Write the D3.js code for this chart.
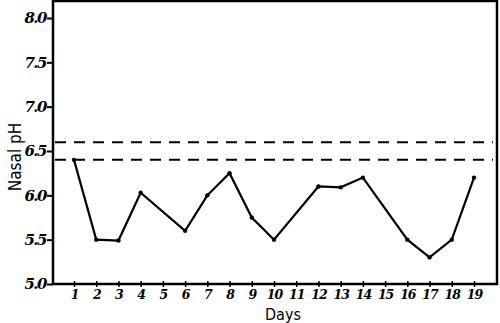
<!DOCTYPE html>
<html lang="en">
<head>
    <meta charset="UTF-8">
    <title>Nasal pH</title>
    <script src="https://cdn.jsdelivr.net/npm/d3@7"></script>
    <style>
        body { margin: 0; background: #fff; }
    </style>
</head>
<body>
<svg width="500" height="323" xmlns="http://www.w3.org/2000/svg" id="my-svg"></svg>
<script>
    // data
    const days = [1, 2, 3, 4, 5, 6, 7, 8, 9, 10, 11, 12, 13, 14, 15, 16, 17, 18, 19];
    const measuredDays = [1, 2, 3, 4, 6, 7, 8, 9, 10, 12, 13, 14, 16, 17, 18, 19];
    const phValues = [6.4, 5.5, 5.49, 6.03, 5.6, 6.0, 6.25, 5.75, 5.5, 6.1, 6.09, 6.2, 5.5, 5.3, 5.5, 6.2];
    const yTicks = [5.0, 5.5, 6.0, 6.5, 7.0, 7.5, 8.0];
    const normalRange = [6.4, 6.6];

    const svg = d3.select("#my-svg");
    const frameL = 53, frameR = 497, frameT = 1, frameB = 284;

    const x = d3.scaleLinear().domain([1, 19]).range([74, 474]);
    const y = d3.scaleLinear().domain([5.0, 8.0]).range([frameB, 18]);

    // frame
    svg.append("path")
        .attr("d", `M${frameL},${frameB} L${frameL},${frameT} L${frameR},${frameT} L${frameR},${frameB} Z`)
        .attr("fill", "none")
        .attr("stroke", "#000")
        .attr("stroke-width", 2.5);

    // y axis
    const yAxis = d3.axisLeft(y)
        .tickValues(yTicks)
        .tickSize(6)
        .tickFormat(d3.format(".1f"));
    const gy = svg.append("g").attr("transform", `translate(${frameL},0)`).call(yAxis);
    gy.select(".domain").remove();
    gy.selectAll(".tick line").attr("stroke-width", 2);
    gy.selectAll(".tick text")
        .attr("font-family", "DejaVu Serif")
        .attr("font-style", "italic")
        .attr("font-weight", "bold")
        .attr("font-size", 15)
        .attr("letter-spacing", -1.5)
        .attr("x", -7);

    // x axis
    const xAxis = d3.axisBottom(x)
        .tickValues(days)
        .tickSizeInner(3)
        .tickSizeOuter(0)
        .tickFormat(d3.format("d"));
    const gx = svg.append("g").attr("transform", `translate(0,${frameB})`).call(xAxis);
    gx.select(".domain").remove();
    gx.selectAll(".tick line").attr("y1", -3).attr("stroke-width", 1.5);
    gx.selectAll(".tick text")
        .attr("font-family", "DejaVu Serif")
        .attr("font-style", "italic")
        .attr("font-weight", "bold")
        .attr("font-size", 12.5)
        .attr("letter-spacing", -1)
        .attr("y", 6);

    // normal range dashed lines
    svg.selectAll(".range")
        .data(normalRange)
        .enter().append("line")
        .attr("x1", frameL + 2)
        .attr("x2", frameR - 4)
        .attr("y1", d => y(d))
        .attr("y2", d => y(d))
        .attr("stroke", "#000")
        .attr("stroke-width", 2)
        .attr("stroke-dasharray", "11,8");

    // data line
    const pts = measuredDays.map((d, i) => [d, phValues[i]]);
    svg.append("path")
        .datum(pts)
        .attr("d", d3.line().x(d => x(d[0])).y(d => y(d[1])))
        .attr("fill", "none")
        .attr("stroke", "#000")
        .attr("stroke-width", 2.2);
    svg.selectAll(".pt")
        .data(pts)
        .enter().append("circle")
        .attr("cx", d => x(d[0]))
        .attr("cy", d => y(d[1]))
        .attr("r", 2.2)
        .attr("fill", "#000");

    // axis titles
    svg.append("text")
        .attr("transform", "translate(21,157) rotate(-90)")
        .attr("text-anchor", "middle")
        .attr("font-family", "DejaVu Sans Condensed")
        .attr("font-size", 17)
        .text("Nasal pH");
    svg.append("text")
        .attr("x", 283)
        .attr("y", 320)
        .attr("text-anchor", "middle")
        .attr("font-family", "DejaVu Sans Condensed")
        .attr("font-size", 16)
        .text("Days");
</script>
</body>
</html>
